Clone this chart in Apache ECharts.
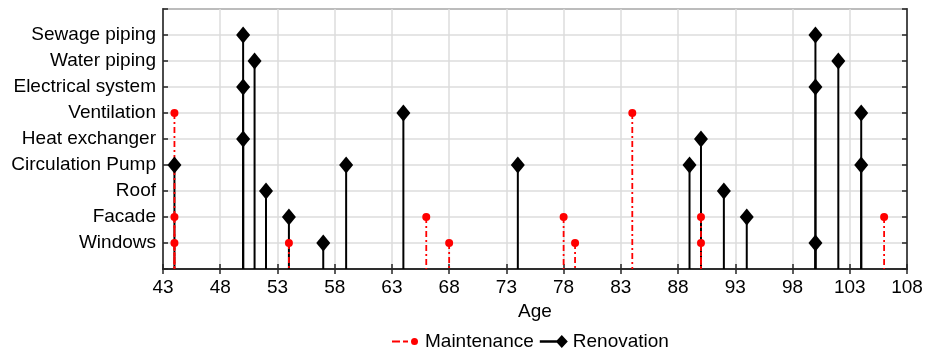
<!DOCTYPE html>
<html>
<head>
<meta charset="utf-8">
<script src="https://cdn.jsdelivr.net/npm/echarts@6/dist/echarts.min.js"></script>
<style>
  html, body { margin: 0; padding: 0; background: #fff; }
  #chart { width: 926px; height: 351px; }
</style>
</head>
<body>
<div id="chart"></div>
<script>
// components, bottom to top
var components = ['Windows', 'Facade', 'Roof', 'Circulation Pump', 'Heat exchanger',
  'Ventilation', 'Electrical system', 'Water piping', 'Sewage piping'];

// [age, component]
var maintenance = [
  [44, 'Ventilation'], [44, 'Facade'], [44, 'Windows'],
  [54, 'Windows'], [66, 'Facade'], [68, 'Windows'],
  [78, 'Facade'], [79, 'Windows'], [84, 'Ventilation'],
  [90, 'Facade'], [90, 'Windows'], [106, 'Facade']
];
var renovation = [
  [44, 'Circulation Pump'],
  [50, 'Sewage piping'], [50, 'Electrical system'], [50, 'Heat exchanger'],
  [51, 'Water piping'], [52, 'Roof'], [54, 'Facade'], [57, 'Windows'],
  [59, 'Circulation Pump'], [64, 'Ventilation'], [74, 'Circulation Pump'],
  [89, 'Circulation Pump'], [90, 'Heat exchanger'], [92, 'Roof'], [94, 'Facade'],
  [100, 'Sewage piping'], [100, 'Electrical system'], [100, 'Windows'],
  [102, 'Water piping'], [104, 'Ventilation'], [104, 'Circulation Pump']
];

var ageMin = 43, ageMax = 108, ageStep = 5;

function toXY(list) {
  return list.map(function (d) { return [d[0], components.indexOf(d[1]) + 1]; });
}
var maintData = toXY(maintenance);
var renoData = toXY(renovation);

var txt = '#262626';
var font = 'Arial, "Liberation Sans", sans-serif';
var fs = 19;

function stem(color, dash, width) {
  return function (params, api) {
    var top = api.coord([api.value(0), api.value(1)]);
    var base = api.coord([api.value(0), 0]);
    return {
      type: 'line',
      shape: { x1: top[0], y1: top[1], x2: base[0], y2: base[1] },
      style: { stroke: color, lineWidth: width, lineDash: dash }
    };
  };
}

// legend icons (28x14 box): line ending in a marker; tiny corner specks keep the box size
var pad = 'M0,0h0.01v0.01h-0.01z M27.99,13.99h0.01v0.01h-0.01z ';
var maintIcon = 'path://' + pad + 'M0,6h8v2H0z M11,6h5v2h-5z M19,7a3.5,3.5 0 1,0 7,0a3.5,3.5 0 1,0 -7,0z';
var renoIcon = 'path://' + pad + 'M0,5.8h20v2.4H0z M16,7L22,0.5L28,7L22,13.5z';

var myChart = echarts.init(document.getElementById('chart'));

var option = {
  animation: false,
  textStyle: { fontFamily: font },
  grid: {
    left: 163, right: 19, top: 9, bottom: 82,
    show: true, borderColor: txt, borderWidth: 1.5
  },
  legend: {
    left: 387, top: 327,
    itemWidth: 28, itemHeight: 14, itemGap: 6,
    textStyle: { fontSize: fs, color: '#000', fontFamily: font },
    data: [
      { name: 'Maintenance', icon: maintIcon },
      { name: 'Renovation', icon: renoIcon }
    ]
  },
  xAxis: [{
    type: 'value', min: ageMin, max: ageMax, interval: ageStep,
    name: 'Age', nameLocation: 'middle', nameGap: 32,
    nameTextStyle: { fontSize: fs, color: '#000' },
    axisLine: { show: true, onZero: false, lineStyle: { color: txt, width: 1.5 } },
    axisTick: { show: true, inside: true, length: 5, lineStyle: { color: txt, width: 1.5 } },
    axisLabel: { fontSize: fs, color: '#000', margin: 9 },
    splitLine: { show: true, lineStyle: { color: '#dcdcdc', width: 1.5 } }
  }, {
    type: 'value', min: ageMin, max: ageMax, interval: ageStep, position: 'top',
    axisLine: { show: true, lineStyle: { color: txt, width: 1.5 } },
    axisTick: { show: true, inside: true, length: 5, lineStyle: { color: txt, width: 1.5 } },
    axisLabel: { show: false },
    splitLine: { show: false }
  }],
  yAxis: [{
    type: 'value', min: 0, max: components.length + 1, interval: 1,
    axisLine: { show: true, lineStyle: { color: txt, width: 1.5 } },
    axisTick: { show: true, inside: true, length: 5, lineStyle: { color: txt, width: 1.5 } },
    axisLabel: {
      fontSize: fs, color: '#000', margin: 7,
      formatter: function (v) { return components[v - 1] || ''; }
    },
    splitLine: { show: true, lineStyle: { color: '#dcdcdc', width: 1.5 } }
  }, {
    type: 'value', min: 0, max: components.length + 1, interval: 1, position: 'right',
    axisLine: { show: true, lineStyle: { color: txt, width: 1.5 } },
    axisTick: { show: true, inside: true, length: 5, lineStyle: { color: txt, width: 1.5 } },
    axisLabel: { show: false },
    splitLine: { show: false }
  }],
  series: [
    // legend entries
    { name: 'Maintenance', type: 'scatter', data: [], itemStyle: { color: '#ff0000', opacity: 1 } },
    { name: 'Renovation', type: 'scatter', data: [], itemStyle: { color: '#000', opacity: 1 } },
    // stems
    {
      name: 'Renovation', type: 'custom', data: renoData,
      encode: { x: 0, y: 1 }, z: 2,
      renderItem: stem('#000', null, 2)
    },
    {
      name: 'Maintenance', type: 'custom', data: maintData,
      encode: { x: 0, y: 1 }, z: 3,
      renderItem: stem('#ff0000', [6, 3, 2, 3], 1.8)
    },
    // markers
    {
      name: 'Renovation', type: 'scatter', data: renoData, z: 4,
      symbol: 'diamond', symbolSize: [14, 17],
      itemStyle: { color: '#000', opacity: 1 }
    },
    {
      name: 'Maintenance', type: 'scatter', data: maintData, z: 5,
      symbol: 'circle', symbolSize: 8,
      itemStyle: { color: '#ff0000', opacity: 1 }
    }
  ]
};
myChart.setOption(option);
window.onresize = myChart.resize;
</script>
</body>
</html>
